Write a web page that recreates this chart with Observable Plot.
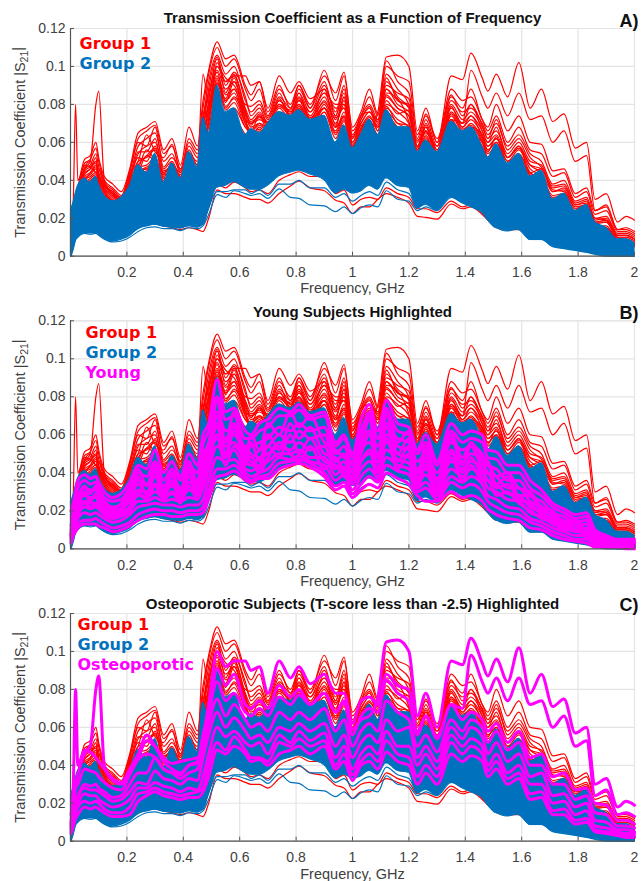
<!DOCTYPE html>
<html><head><meta charset="utf-8">
<script src="https://cdn.jsdelivr.net/npm/d3@7"></script>
<script src="https://cdn.jsdelivr.net/npm/@observablehq/plot@0.6"></script>
<style>html,body{margin:0;padding:0;background:#fff}svg{display:block}</style>
</head><body><div id="chart"></div>
<script>
// Frequencies (GHz) at which the curves' peaks and troughs were read
const freq = [0.002,0.01,0.018,0.026,0.05,0.07,0.09,0.1,0.12,0.15,0.18,0.21,0.24,0.27,0.3,0.33,0.36,0.39,0.42,0.45,0.47,0.49,0.52,0.55,0.58,0.62,0.64,0.67,0.7,0.74,0.78,0.81,0.85,0.9,0.94,0.97,1,1.03,1.06,1.09,1.12,1.16,1.2,1.23,1.26,1.3,1.35,1.39,1.42,1.46,1.48,1.51,1.55,1.59,1.63,1.67,1.71,1.75,1.79,1.83,1.86,1.9,1.94,1.97,2];

// All values are |S21| x 1000
const osteo1 = [14,22,30,35,46,50,80,87,40,32,30,36,44,53,50,44,41,42,43,44,50,64,91,82,88,72,70,74,70,82,76,80,72,78,68,73,59,64,66,76,105,106,100,66,78,60,95,93,107,94,87,96,84,102,78,88,71,75,57,60,30,33,18,21,19];
const osteo2 = [10,30,80,40,48,47,44,42,38,33,31,38,46,56,50,42,38,36,40,42,55,72,100,92,95,95,90,92,78,95,86,92,83,88,78,78,62,74,76,72,88,82,80,58,66,55,72,70,98,84,78,86,74,86,72,74,60,66,50,53,24,27,14,15,13];
const osteo3 = [9,18,28,30,38,37,36,34,31,28,27,35,43,46,44,38,36,35,40,41,56,68,84,74,78,68,66,70,66,76,72,77,72,78,68,74,56,66,70,68,85,78,74,56,66,54,72,64,68,64,58,62,52,58,44,46,34,36,27,28,20,19,11,11,9];
const osteo4 = [8,15,21,24,30,29,30,28,26,23,24,30,36,36,44,38,36,33,36,38,50,62,75,66,72,64,60,62,58,68,64,68,64,70,58,64,50,58,62,58,74,68,64,50,56,47,64,58,64,60,52,58,48,52,40,40,30,30,22,24,15,14,8,8,7];
const osteo5 = [7,14,19,23,28,27,27,26,24,21,22,26,31,30,37,33,32,30,33,32,44,56,68,60,65,58,54,56,52,60,58,62,58,62,50,56,44,52,56,52,64,58,60,44,50,42,60,54,60,55,46,52,42,46,34,36,24,25,18,20,11,10,6,6,5];
const osteo6 = [6,12,17,20,25,24,24,22,20,18,19,22,28,28,31,29,28,26,28,27,34,46,60,55,58,52,50,52,46,56,52,58,53,57,44,50,38,46,50,46,58,50,50,40,46,38,56,50,54,50,40,46,36,40,30,30,20,21,14,16,8,7,5,4,4];
const osteo7 = [5,10,15,18,21,20,21,20,17,15,15,18,25,26,28,26,25,24,25,26,28,40,52,48,55,48,44,44,42,52,50,54,50,53,40,46,35,42,46,42,53,46,44,34,40,34,52,46,50,46,37,42,33,36,25,26,16,17,11,12,6,5,4,3,3];
const osteo8 = [4,8,12,14,18,17,18,17,15,13,13,14,21,24,26,24,23,22,23,23,26,34,48,46,50,46,42,43,40,46,48,50,46,50,38,42,32,40,42,38,47,42,40,30,36,30,46,42,45,42,34,38,30,33,22,23,14,14,9,10,5,4,3,2,2];

const red1 = [16,24,30,36,51,53,60,52,42,38,34,46,65,68,71,56,62,48,68,58,82,98,113,104,106,90,85,92,76,90,78,90,78,98,82,95,68,76,88,75,103,92,86,64,74,62,84,78,88,72,68,80,66,74,60,59,45,46,33,36,24,26,14,14,12];
const red2 = [14,22,28,34,49,51,57,50,40,36,32,45,62,66,69,54,58,46,62,56,78,96,110,100,104,88,82,88,74,88,80,90,80,95,86,97,66,74,84,74,100,95,92,62,75,60,88,82,84,72,66,74,60,68,56,54,42,44,31,34,22,24,13,13,11];
const red3 = [13,20,26,32,46,48,54,47,38,34,30,42,58,62,65,50,54,44,58,52,72,92,106,96,100,82,76,80,72,84,78,86,76,90,76,90,64,74,80,72,96,88,80,60,72,58,82,76,78,70,64,70,58,64,54,50,38,40,29,31,20,21,12,12,10];
const red4 = [12,20,25,30,44,46,50,44,36,31,28,40,54,58,60,46,50,42,54,50,96,80,102,92,96,78,72,76,70,82,76,84,74,86,74,86,62,72,78,70,92,84,78,58,70,56,80,72,76,68,62,66,54,60,50,48,36,37,27,29,18,19,11,11,9];
const red5 = [12,19,24,29,42,44,47,42,35,30,27,38,50,52,56,44,48,44,52,48,72,84,98,88,92,76,70,72,70,80,74,82,72,84,72,82,60,70,76,68,88,80,76,56,68,54,78,70,74,66,60,64,52,58,48,44,34,35,25,27,17,18,10,10,8];
const red6 = [11,18,23,27,40,42,44,40,34,29,26,36,47,48,52,42,46,42,50,46,68,80,95,85,88,74,68,70,68,78,72,80,70,82,70,80,58,68,74,66,84,78,74,54,66,52,76,68,72,64,58,62,50,56,46,42,32,33,24,26,16,16,9,9,7];
const red7 = [12,20,25,30,45,47,49,43,37,33,29,41,52,50,58,41,44,40,48,44,70,78,93,83,94,72,66,74,66,76,70,78,68,80,68,84,56,66,72,64,80,76,70,52,64,50,74,66,70,62,56,60,48,54,44,40,30,31,23,25,15,15,8,8,7];
const red8 = [11,18,22,28,38,41,43,39,33,28,25,34,45,46,50,40,45,38,46,43,64,76,91,82,86,70,64,68,64,74,72,76,66,78,66,76,54,64,70,62,78,72,68,50,62,48,72,64,68,60,54,58,46,52,42,38,28,29,21,23,14,14,8,8,6];
const red9 = [10,17,21,26,36,39,41,38,31,27,24,33,43,44,48,38,43,36,44,41,62,74,88,78,84,72,62,66,62,72,70,74,64,76,64,72,52,62,66,60,76,70,66,48,60,46,70,62,66,58,52,56,44,50,40,36,26,27,20,22,13,13,7,7,6];
const red10 = [12,19,24,30,43,46,52,40,37,34,30,44,60,58,68,47,52,46,56,48,66,88,105,90,97,84,74,78,70,80,77,88,78,92,74,88,63,70,76,71,90,86,83,57,68,56,76,70,80,66,60,68,52,57,48,46,35,34,26,27,18,18,10,10,8];
const red11 = [13,21,27,33,47,50,44,46,39,35,31,43,50,64,55,52,59,45,60,54,74,86,100,94,90,80,79,82,73,86,74,82,76,86,80,80,60,72,79,66,94,82,79,61,65,58,85,74,80,69,62,72,56,62,52,47,37,38,28,30,19,20,11,11,9];
const red12 = [11,18,23,29,41,43,46,41,36,32,28,39,55,55,62,45,47,43,50,46,62,82,104,86,95,77,69,75,68,83,73,86,71,88,69,84,58,67,73,69,86,83,71,55,69,51,79,68,74,63,56,60,50,53,44,41,31,32,22,24,15,15,9,8,7];
const red13 = [12,19,25,28,39,44,48,43,34,29,27,37,48,53,57,43,49,41,47,45,60,78,97,81,92,75,71,73,71,79,75,83,73,81,73,78,57,69,68,63,82,75,77,53,63,49,75,67,69,61,55,63,47,51,43,39,29,28,20,21,13,13,7,7,6];
const red14 = [10,16,21,27,37,40,42,37,32,27,25,35,44,47,49,39,42,37,43,40,58,72,94,79,83,70,66,69,66,75,70,79,69,78,65,74,55,63,69,61,79,70,69,49,60,47,71,63,65,57,50,57,43,48,39,35,25,26,19,20,12,12,7,6,5];
const red15 = [11,17,22,26,35,38,40,36,31,28,26,32,42,45,47,41,41,35,41,39,56,70,92,77,81,68,65,67,63,73,71,77,67,76,62,71,53,61,67,59,74,68,64,47,58,45,69,61,63,56,49,55,42,46,37,33,24,24,17,19,11,11,6,6,5];
const redLow1 = [6,9,12,14,14,13,14,13,11,9,10,12,15,17,17,16,15,14,15,14,13,20,35,33,33,31,30,30,28,33,37,39.5,36,34.5,29.5,28,22.5,26,26,30,33,31,28,21,20.5,19.5,27.5,25,26,22,19,15,14,14,9,9,6,5,4,3,2,1,1,1,0.5];
const redLow2 = [7,10,13,15,16,15,15,14,12,10,11,13,17,18,18,17,16,16,17,16,17,26,38,36,39,36,34,35,33,40,43,44.5,42,42,33,35,27,30,31,30,36,33,31,25,25,23,29,26,27,23,20,18,17,16,12,12,8,7,6,5,3,2,1,1,1];

const blueTop = [25,28,33,37,41,39,42,38,32,29,31,37,48,44,54,39,49,41,55,47,73,65,90,76,78,64,67,65,70,76,74,77,72,74,60,69,57,64,72,64,77,68,68,55,61,55,71,66,68,58,52,59,49,54,42,45,30,33,24,27,18,15,9,9,7];
const blueBottom = [0,3,8,10,12,12,12,11,9,8,9,11,14,16,16.5,15.5,15,14.5,16,15,17,24,36,37,39,36,35,35,37,42,44,45,43,40,33,35,33,34,37,35,41,37,36,25,27,24,31,28,26,23,19,15,13,14,8.5,8.5,5,4,3,2,1,0,0,0,0];
const blueLow1 = [0,4,8.5,10,12,11.5,12,11,9,7.5,8,10,13,15,15.5,14.5,14.5,13.5,15,14.5,16,22,32.5,31,34.5,33,32,33,30.5,35.5,31,30.5,27,26.5,23.5,26,22.5,25.5,27,26,34.5,30,29,24,26,24,31,28,26,23,19,15,15,14,9,9,5,4,3,2,1,0,0,0,0];
const blueLow2 = [1,5,9,11,13,12.5,13,12,10,8,9,11,15,16,17,16,16,15,16,15.5,17,26,34,34,35,35,33,35,32,38,38,40,36,36,31,33,29,32,34,32,39,35,33,26,28,26,32,30,28,25,21,17,16,15,10,10,6,5,4,3,2,1,0,0,0];

const young1 = [20,24,30,36,39,37,38,35,30,27,29,35,44,42,52,40,46,38,50,44,60,66,89,72,74,62,60,66,68,74,72,76,70,72,56,60,50,68,76,62,78,66,64,52,60,46,66,60,62,60,52,51,44,44,36,31,24,21,18,19,10,7,5,5,5];
const young2 = [12,20,26,32,36,34,35,32,27,25,26,32,40,38,46,36,42,36,44,40,55,62,80,68,70,58,58,62,64,70,70,73,68,70,54,58,48,62,70,58,72,62,60,50,56,44,62,56,58,56,48,47,40,40,32,28,22,19,16,17,9,6,4,4,4];
const young3 = [10,17,22,27,32,31,31,29,25,22,23,28,36,34,40,33,38,32,40,36,48,56,72,62,64,54,54,56,58,64,62,66,62,64,50,54,44,56,62,54,66,58,56,46,50,40,56,52,54,50,44,42,36,36,28,25,19,17,14,15,8,5,4,3,3];
const young4 = [8,14,19,24,28,27,27,26,22,20,21,25,31,30,34,30,33,29,35,32,44,52,66,58,60,50,48,52,54,60,56,62,58,60,46,50,40,52,56,50,60,54,52,42,46,37,50,46,50,46,40,38,32,32,25,22,17,15,12,13,6,4,3,3,2];
const young5 = [7,12,17,21,25,24,24,23,20,18,19,22,28,27,30,27,29,27,31,29,38,48,60,54,56,46,44,48,50,54,52,56,52,54,42,46,37,46,50,46,56,50,48,38,42,34,46,42,46,42,36,34,29,28,22,19,15,13,10,11,5,3,2,2,2];
const young6 = [6,11,15,18,22,21,22,21,18,16,17,20,25,25,27,25,26,25,27,26,32,42,54,50,52,42,41,44,46,50,50,52,48,48,39,43,34,42,46,42,52,47,45,35,39,31,42,38,42,38,32,30,26,25,19,17,13,11,9,9,4,2,2,1,1];
const young7 = [5,9,13,16,19,18,19,18,16,14,15,18,22,23,24,23,23,22,23,23,26,36,48,46,47,40,38,40,42,48,47,49,46,44,36,39,31,38,42,38,48,44,42,32,35,28,38,35,38,34,28,26,22,21,16,14,11,9,7,7,3,2,1,1,1];
const young8 = [4,8,11,13,15,15,16,15,13,11,12,14,18,20,21,20,20,19,20,20,22,30,42,42,44,38,36,38,39,45,46,47,45,40,33,35,29,34,38,35,44,41,39,30,32,26,35,32,34,30,25,22,19,18,14,12,9,7,5,5,2,1,1,1,1];
const young9 = [3,7,9,11,13,13,13,12,11,9,10,12,15,17,18,18,17,17,18,18,19,26,38,39,41,36,35,37,37,42,44,45,43,38,31,33,27,31,34,32,40,37,34,28,25,25,30,27,28,25,21,18,16,15,11,10,7,5,4,3,1,1,1,0,0];
const young10 = [9,15,20,26,33,29,33,27,24,21,24,30,42,33,44,31,40,30,46,34,52,50,78,56,72,50,60,52,66,60,72,64,70,56,52,48,46,60,72,48,74,56,62,40,54,36,60,48,56,48,46,38,40,32,30,22,20,14,15,9,8,4,4,2,3];
const young11 = [7,13,18,22,29,25,29,24,21,19,21,26,38,28,42,29,36,27,42,30,46,44,70,50,66,44,56,46,60,52,66,58,64,50,48,42,42,54,68,42,70,50,58,36,52,32,58,44,54,44,44,34,38,28,28,20,18,12,14,8,7,3,3,2,2];
const young12 = [6,11,16,24,30,26,28,25,20,17,20,27,34,29,38,28,34,26,38,28,42,52,64,48,62,52,50,42,54,48,60,50,58,46,44,40,38,50,60,40,64,46,54,34,48,30,52,40,48,40,40,32,34,26,24,18,16,11,12,7,6,3,2,1,2];
const young13 = [8,12,17,20,24,22,23,21,18,16,18,22,30,26,33,26,30,24,33,26,36,48,58,44,54,48,46,40,48,56,50,46,54,42,48,38,36,46,52,36,58,42,50,32,44,28,48,36,44,36,36,28,30,24,20,16,14,10,10,6,5,2,2,1,1];

const xTicks = [0.2,0.4,0.6,0.8,1,1.2,1.4,1.6,1.8,2];
const yTicks = [0,0.02,0.04,0.06,0.08,0.1,0.12];
const RED = "#ff0000", BLUE = "#0072bd", MAGENTA = "#ff00ff";

const redSeries = [redLow1,redLow2,red15,red14,red13,red12,red11,red10,red9,red8,red7,red6,red5,red4,red3,red2,red1,osteo4,osteo3,osteo2,osteo1];
const blueSeries = [blueLow1,blueLow2];
const youngSeries = [young9,young8,young7,young6,young5,young4,young3,young2,young1,young10,young11,young12,young13];
const osteoSeries = [osteo8,osteo7,osteo6,osteo5,osteo4,osteo3,osteo2,osteo1];

const long = series => series.flatMap((s,k)=>s.map((v,i)=>({f:freq[i],v:v/1000,k})));
const band = freq.map((f,i)=>({f,top:blueTop[i]/1000,bottom:blueBottom[i]/1000}));

const panels = [
  {h:295,top:28,bottom:39.3,title:"Transmission Coefficient as a Function of Frequency",tag:"A)",
   legend:[["Group 1",RED],["Group 2",BLUE]],legDx:9,legDy:15,hi:[],titleDy:-10,tagDy:-7,xDy:32.5},
  {h:295,top:25.3,bottom:41.7,title:"Young Subjects Highlighted",tag:"B)",
   legend:[["Group 1",RED],["Group 2",BLUE],["Young",MAGENTA]],legDx:15,legDy:11.7,hi:youngSeries,titleDy:-8.6,tagDy:-7.3,xDy:32.7},
  {h:291,top:23,bottom:40.3,title:"Osteoporotic Subjects (T-score less than -2.5) Highlighted",tag:"C)",
   legend:[["Group 1",RED],["Group 2",BLUE],["Osteoporotic",MAGENTA]],legDx:7,legDy:11,hi:osteoSeries,titleDy:-9,tagDy:-8,xDy:33.5}
];
const sans = "'Liberation Sans',Arial,sans-serif";

for (const p of panels) {
  const chart = Plot.plot({
    width:641,height:p.h,marginLeft:70,marginRight:7,marginTop:p.top,marginBottom:p.bottom,
    style:{fontFamily:sans,background:"#fff"},
    x:{domain:[0,2]},y:{domain:[0,0.12]},
    marks:[
      Plot.gridX(xTicks,{stroke:"#e4e4e4",strokeOpacity:1,strokeWidth:1.2}),
      Plot.gridY(yTicks,{stroke:"#e4e4e4",strokeOpacity:1,strokeWidth:1.2}),
      Plot.frame({stroke:"#e4e4e4"}),
      Plot.line(long(redSeries),{x:"f",y:"v",z:"k",stroke:RED,strokeWidth:1.2,curve:"monotone-x"}),
      Plot.areaY(band,{x:"f",y1:"bottom",y2:"top",fill:BLUE,stroke:BLUE,strokeWidth:1,curve:"monotone-x"}),
      Plot.line(long(blueSeries),{x:"f",y:"v",z:"k",stroke:BLUE,strokeWidth:1.2,curve:"monotone-x"}),
      ...(p.hi.length?[Plot.line(long(p.hi),{x:"f",y:"v",z:"k",stroke:MAGENTA,strokeWidth:3,curve:"monotone-x"})]:[]),
      Plot.ruleX([0],{stroke:"#555",strokeWidth:1.2}),
      Plot.ruleY([0],{stroke:"#555",strokeWidth:1.2}),
      Plot.axisX({ticks:xTicks,tickSize:-4,tickPadding:15,stroke:"#555",label:null,tickFormat:d=>String(d),fontSize:14,fill:"#404040"}),
      Plot.axisY({ticks:yTicks,tickSize:-4,tickPadding:9,stroke:"#555",label:null,tickFormat:d=>String(d),fontSize:14,fill:"#404040"}),
      Plot.text(["Frequency, GHz"],{frameAnchor:"bottom",lineAnchor:"middle",dy:p.xDy,fontSize:14.5,fill:"#404040"}),
      Plot.text(["Transmission Coefficient |S21|"],{frameAnchor:"left",textAnchor:"middle",lineAnchor:"middle",dx:-50,rotate:-90,fontSize:14.5,fill:"#404040",className:"ylab"}),
      Plot.text([p.title],{frameAnchor:"top",lineAnchor:"middle",dy:p.titleDy,fontSize:15,fontWeight:"bold",fill:"#111"}),
      Plot.text([p.tag],{frameAnchor:"top-right",lineAnchor:"middle",dx:4,dy:p.tagDy,fontSize:18,fontWeight:"bold",fill:"#111",textAnchor:"end"}),
      ...p.legend.map(([t,c],i)=>Plot.text([t],{frameAnchor:"top-left",dx:p.legDx,dy:p.legDy+i*20,fontFamily:"'DejaVu Sans',sans-serif",fontSize:16,fontWeight:"bold",fill:c,textAnchor:"start",lineAnchor:"middle"}))
    ]
  });
  // real subscript in the y-axis label
  d3.select(chart).selectAll(".ylab text").each(function(){
    const t=d3.select(this); t.text(null);
    t.append("tspan").text("Transmission Coefficient |S");
    t.append("tspan").attr("dy","0.3em").attr("font-size","10.5").text("21");
    t.append("tspan").attr("dy","-0.4em").text("|");
  });
  document.getElementById("chart").appendChild(chart);
}
</script></body></html>
